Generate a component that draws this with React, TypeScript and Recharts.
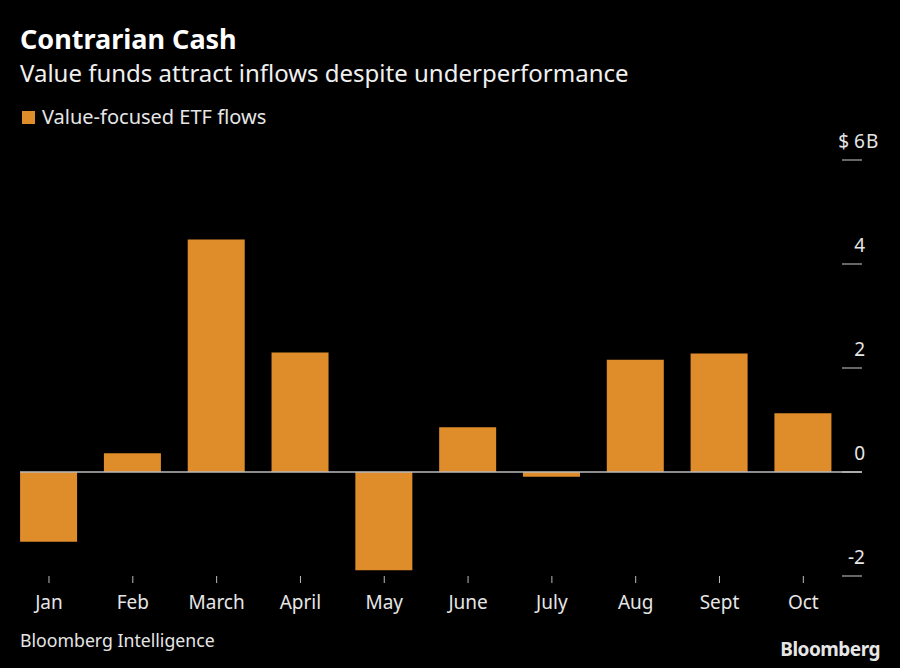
import React from "react";
import { BarChart, Bar, XAxis, YAxis, ReferenceLine } from "recharts";

const months = ["Jan", "Feb", "March", "April", "May", "June", "July", "Aug", "Sept", "Oct"];
const flows = [-1.34, 0.36, 4.47, 2.3, -1.89, 0.86, -0.09, 2.16, 2.28, 1.13];
const yTicks = [-2, 0, 2, 4, 6];
const seriesName = "Value-focused ETF flows";

const data = months.map((m, i) => ({ i, month: m, flow: flows[i] }));

const FONT = "'Noto Sans', sans-serif";
const ORANGE = "#DF8D2A";

const YTick = (props: any) => {
  const { x, y, payload } = props;
  const v = payload.value;
  const isTop = v === yTicks[yTicks.length - 1];
  return (
    <g>
      <line x1={x - 20} x2={x} y1={y} y2={y} stroke="#cccccc" strokeWidth={1} />
      <text x={x + 3} y={y - 12} textAnchor="end" fill="#e6e6e6" fontSize={19} fontFamily={FONT}>
        {isTop ? `$ ${v}` : v}
      </text>
      {isTop && (
        <text x={x + 4} y={y - 12} textAnchor="start" fill="#e6e6e6" fontSize={19} fontFamily={FONT}>
          B
        </text>
      )}
    </g>
  );
};

export default function App() {
  return (
    <div
      style={{
        position: "absolute",
        left: 0,
        top: 0,
        width: 900,
        height: 668,
        background: "#000",
        fontFamily: FONT,
        color: "#fff",
        overflow: "hidden",
      }}
    >
      <div style={{ position: "absolute", left: 20, top: 24, fontSize: 27, fontWeight: 700, lineHeight: "30px" }}>
        Contrarian Cash
      </div>
      <div style={{ position: "absolute", left: 20, top: 58, fontSize: 24, lineHeight: "30px", color: "#f0f0f0" }}>
        Value funds attract inflows despite underperformance
      </div>
      <div style={{ position: "absolute", left: 22, top: 103, display: "flex", alignItems: "center" }}>
        <div style={{ width: 13, height: 13, background: ORANGE, marginRight: 7 }} />
        <span style={{ fontSize: 20, color: "#e6e6e6", lineHeight: "28px" }}>{seriesName}</span>
      </div>

      <div style={{ position: "absolute", left: 0, top: 0 }}>
        <BarChart width={900} height={668} data={data} margin={{ top: 160, right: 0, bottom: 52, left: 20 }}>
          <XAxis
            dataKey="i"
            type="number"
            domain={[-0.346, 9.7]}
            ticks={data.map((d) => d.i)}
            tickFormatter={(v: number) => months[v]}
            axisLine={false}
            tickLine={{ stroke: "#bbbbbb" }}
            tickSize={7}
            tickMargin={13}
            height={40}
            tick={{ fill: "#e6e6e6", fontSize: 19, fontFamily: FONT }}
            interval={0}
          />
          <YAxis
            orientation="right"
            domain={[-2, 6]}
            ticks={yTicks}
            width={38}
            axisLine={false}
            tickLine={false}
            tickSize={0}
            tickMargin={0}
            tick={<YTick />}
            allowDataOverflow
          />
          <Bar dataKey="flow" name={seriesName} fill={ORANGE} barSize={57} isAnimationActive={false} />
          <ReferenceLine y={0} stroke="#bbbbbb" strokeWidth={1.5} />
        </BarChart>
      </div>

      <div style={{ position: "absolute", left: 20, top: 627, fontSize: 17.7, color: "#e6e6e6", lineHeight: "26px" }}>
        Bloomberg Intelligence
      </div>
      <div
        style={{
          position: "absolute",
          right: 20,
          top: 636,
          fontSize: 19,
          fontWeight: 700,
          color: "#e6e6e6",
          letterSpacing: -0.5,
          lineHeight: "26px",
        }}
      >
        Bloomberg
      </div>
    </div>
  );
}
